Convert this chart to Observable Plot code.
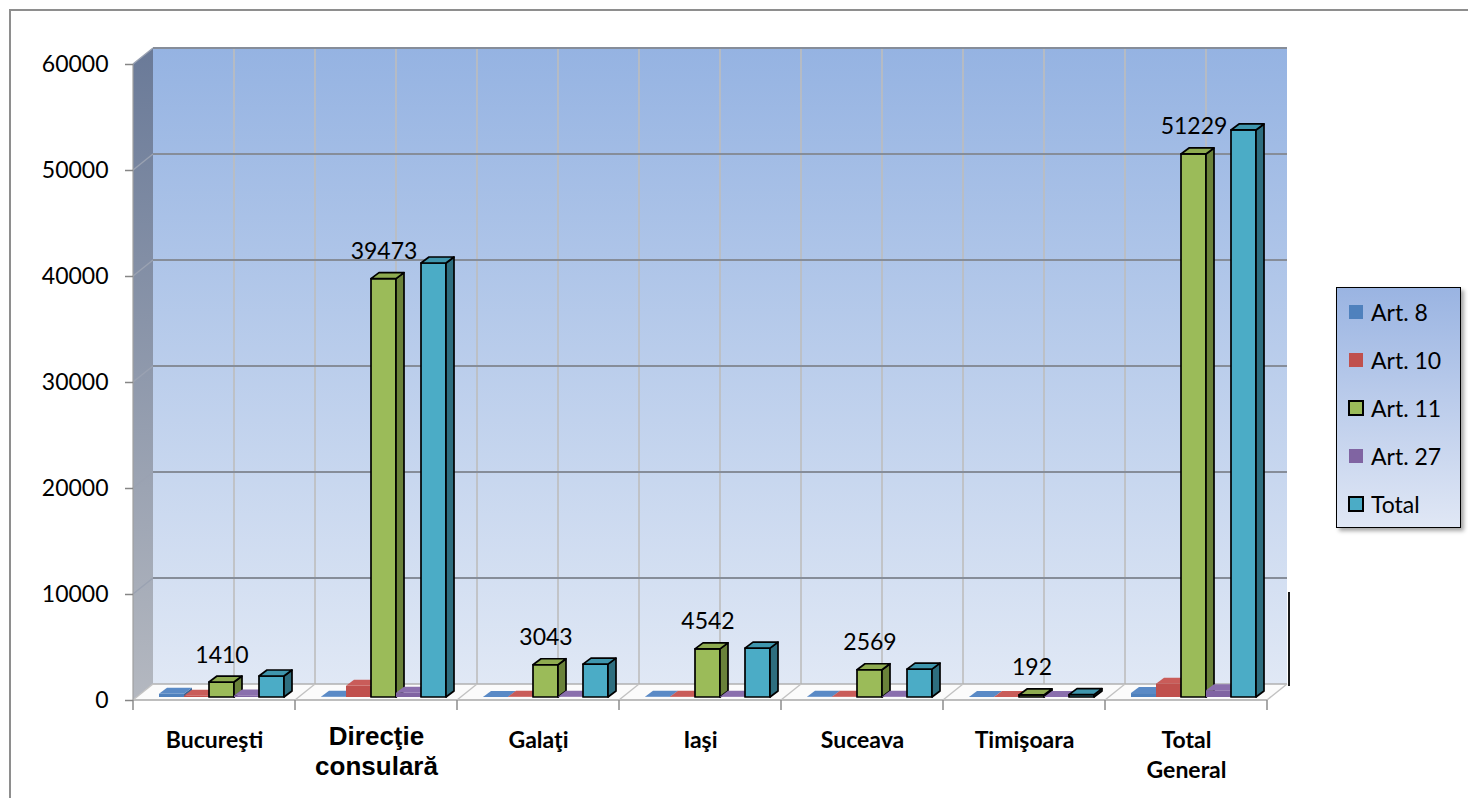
<!DOCTYPE html>
<html><head><meta charset="utf-8">
<script src="https://cdn.jsdelivr.net/npm/d3@7"></script>
<script src="https://cdn.jsdelivr.net/npm/@observablehq/plot@0.6"></script>
<style>
body{margin:0;background:#fff;overflow:hidden;font-family:Lato,sans-serif}
#wrap{position:relative;width:1468px;height:798px;overflow:hidden}
#chart{position:absolute;left:0;top:0}
#frame{position:absolute;left:9px;top:9px;width:1480px;height:820px;border:2px solid #8e8e8e;pointer-events:none}
#legend{position:absolute;left:1336px;top:287px;width:123px;height:239px;border:1px solid #000;background:linear-gradient(#9ab4e2,#e0e7f5);box-shadow:3px 3px 4px rgba(0,0,0,.35)}
.item{position:absolute;left:12px;display:flex;align-items:center;font-size:23px;height:30px;color:#000}
.sw{width:14px;height:14px;margin-right:8px;box-sizing:border-box}
</style></head>
<body>
<div id="wrap"><div id="chart"></div><div id="frame"></div><div id="legend"></div></div>
<script>
const categories = ["Bucureşti","Direcţie consulară","Galaţi","Iaşi","Suceava","Timişoara","Total General"];
const catLabels = ["Bucureşti","Direcţie\nconsulară","Galaţi","Iaşi","Suceava","Timişoara","Total\nGeneral"];
const series = ["Art. 8","Art. 10","Art. 11","Art. 27","Total"];
const art8  = [300, 20, 10, 15, 15, 10, 370];
const art10 = [120, 1050, 25, 30, 25, 10, 1260];
const art11 = [1410, 39473, 3043, 4542, 2569, 192, 51229];
const art27 = [150, 400, 20, 30, 25, 10, 635];
const total = [1980, 40943, 3098, 4617, 2634, 222, 53494];
const yTicks = [0, 10000, 20000, 30000, 40000, 50000, 60000];

const seriesValues = [art8, art10, art11, art27, total];
const rows = categories.flatMap((c, i) => series.map((s, j) => ({cat: c, series: s, j, value: seriesValues[j][i]})));
const labelRows = categories.map((c, i) => ({cat: c, v: art11[i]}));
const catRows = categories.map((c, i) => ({cat: c, label: catLabels[i]}));

const faceColors = {
  "Art. 8":  {front: "#4f81bd", top: "#5a8ac6", side: "#3a6494", stroke: null},
  "Art. 10": {front: "#c0504d", top: "#c95c59", side: "#963c3a", stroke: null},
  "Art. 11": {front: "#9bbb59", top: "#8eab50", side: "#6a823a", stroke: "#000"},
  "Art. 27": {front: "#8064a2", top: "#8a6fad", side: "#624c7f", stroke: null},
  "Total":   {front: "#4bacc6", top: "#3f96ad", side: "#2e6e7f", stroke: "#000"}
};

const DX = 20, DY = -16;        // back wall depth
const BD = [8, -6];             // bar depth
const FRONT = [4, -3];          // bar front plane offset
const GROUP = 22, BW = 25;

function bandw(X) { return typeof X.bandwidth === "function" ? X.bandwidth() : X.bandwidth; }
function poly(g, pts, fill, stroke, sw) {
  g.append("path").attr("d", "M" + pts.map(p => p.join(",")).join("L") + "Z")
    .attr("fill", fill).attr("stroke", stroke || "none").attr("stroke-width", sw || 0).attr("stroke-linejoin", "round");
}
function line(g, a, b, stroke, sw) {
  g.append("line").attr("x1", a[0]).attr("y1", a[1]).attr("x2", b[0]).attr("y2", b[1])
    .attr("stroke", stroke).attr("stroke-width", sw);
}

function walls(index, scales) {
  const X = scales.x, Y = scales.y, bw = bandw(X);
  const x0 = X(categories[0]), x1 = X(categories[categories.length - 1]) + bw;
  const y0 = Y(0), yT = Y(yTicks[yTicks.length - 1]);
  const g = d3.create("svg:g");
  const defs = g.append("defs");
  const grad = (id, a, b) => {
    const l = defs.append("linearGradient").attr("id", id).attr("x1", 0).attr("y1", 0).attr("x2", 0).attr("y2", 1);
    l.append("stop").attr("offset", 0).attr("stop-color", a);
    l.append("stop").attr("offset", 1).attr("stop-color", b);
  };
  grad("backGrad", "#95b3e2", "#e0e8f5");
  grad("sideGrad", "#6a7a98", "#b4b8c0");
  poly(g, [[x0, y0], [x0, yT], [x0 + DX, yT + DY], [x0 + DX, y0 + DY]], "url(#sideGrad)");
  poly(g, [[x0 + DX, yT + DY], [x1 + DX, yT + DY], [x1 + DX, y0 + DY], [x0 + DX, y0 + DY]], "url(#backGrad)");
  categories.forEach(c => {
    [X(c), X(c) + bw / 2].forEach(xx => {
      if (xx === x0) return;
      line(g, [xx + DX, yT + DY], [xx + DX, y0 + DY], "#bdbdbd", 1.6);
    });
  });
  yTicks.forEach(v => {
    if (v === 0) return;
    line(g, [x0, Y(v)], [x0 + DX, Y(v) + DY], "#9aa2b2", 1.5);
    line(g, [x0 + DX, Y(v) + DY], [x1 + DX, Y(v) + DY], "#868d99", 2);
  });
  poly(g, [[x0, y0], [x1, y0], [x1 + DX, y0 + DY], [x0 + DX, y0 + DY]], "#fbfbfb");
  line(g, [x0 + DX, y0 + DY], [x1 + DX, y0 + DY], "#b0b0b0", 1.5);
  line(g, [x0, y0], [x1, y0], "#a8a8a8", 1.5);
  categories.concat([null]).forEach(c => {
    const xx = c == null ? x1 : X(c);
    line(g, [xx, y0], [xx + DX, y0 + DY], "#c2c2c2", 1.5);
    line(g, [xx, y0], [xx, y0 + 10], "#8c8c8c", 1.5);
  });
  line(g, [x0, y0], [x0, yT], "#a0a0a0", 1.2);
  line(g, [x1 + DX + 2, Y(10000) - 2], [x1 + DX + 2, y0 + DY + 2], "#1a1a1a", 2);
  return g.node();
}

function bars(index, scales) {
  const X = scales.x, Y = scales.y;
  const g = d3.create("svg:g");
  rows.forEach(r => {
    const col = faceColors[r.series];
    const L = X(r.cat) + FRONT[0] + GROUP + r.j * BW, R = L + BW;
    const yt = Y(r.value) + FRONT[1], yb = Y(0) + FRONT[1];
    const sw = col.stroke ? 1.7 : 0;
    poly(g, [[L, yt], [R, yt], [R, yb], [L, yb]], col.front, col.stroke, sw);
    poly(g, [[R, yt], [R + BD[0], yt + BD[1]], [R + BD[0], yb + BD[1]], [R, yb]], col.side, col.stroke, sw);
    poly(g, [[L, yt], [L + BD[0], yt + BD[1]], [R + BD[0], yt + BD[1]], [R, yt]], col.top, col.stroke, sw);
  });
  return g.node();
}

const plot = Plot.plot({
  width: 1468, height: 798,
  marginLeft: 133, marginRight: 201, marginTop: 64, marginBottom: 98,
  style: {fontFamily: "Lato, sans-serif", background: "transparent"},
  x: {type: "band", domain: categories, padding: 0, axis: null, label: null},
  y: {domain: [0, 60000], axis: null, label: null},
  marks: [
    walls,
    Plot.axisY({ticks: yTicks, tickSize: 8, tickPadding: 17, tickFormat: d => String(d), label: null, fontSize: 23, color: "#000", stroke: "#868686", strokeWidth: 1.5}),
    bars,
    Plot.text(labelRows, {x: "cat", y: "v", text: d => String(d.v), dx: FRONT[0] + GROUP + 2.5 * BW - 81, dy: -23, lineAnchor: "bottom", fontSize: 23, fill: "#000"}),
    Plot.text(catRows.filter((d, i) => i !== 1), {x: "cat", frameAnchor: "bottom", text: "label", lineAnchor: "top", dy: 26, fontSize: 23, fontWeight: "bold", lineHeight: 1.3, fill: "#000"}),
    Plot.text(catRows.filter((d, i) => i === 1), {x: "cat", frameAnchor: "bottom", text: "label", lineAnchor: "top", dy: 23.5, fontSize: 26, fontWeight: "bold", fontFamily: "Liberation Sans, Arial, sans-serif", lineHeight: 1.154, fill: "#000"})
  ]
});
document.getElementById("chart").appendChild(plot);

const legend = document.getElementById("legend");
series.forEach((s, i) => {
  const col = faceColors[s];
  const it = document.createElement("div");
  it.className = "item";
  it.style.top = (9 + i * 48) + "px";
  const sw = document.createElement("span");
  sw.className = "sw";
  sw.style.background = col.front;
  if (col.stroke) { sw.style.border = "2px solid #000"; sw.style.width = "16px"; sw.style.height = "16px"; sw.style.marginLeft = "-1px"; sw.style.marginRight = "7px"; }
  const tx = document.createElement("span");
  tx.textContent = s;
  it.appendChild(sw); it.appendChild(tx);
  legend.appendChild(it);
});
</script>
</body></html>
